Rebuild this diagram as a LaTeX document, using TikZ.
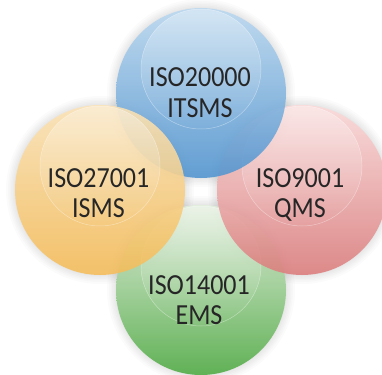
\documentclass[tikz,border=0pt]{standalone}
\usepackage{fontspec}
\setmainfont{Carlito}
\usetikzlibrary{fadings}
\definecolor{txt}{HTML}{262626}
\definecolor{blueT}{HTML}{BAD8F0}
\definecolor{blueB}{HTML}{5094D0}
\definecolor{yelT}{HTML}{FCE3B6}
\definecolor{yelB}{HTML}{F5BC58}
\definecolor{redT}{HTML}{FCDADA}
\definecolor{redB}{HTML}{DC7C7C}
\definecolor{grnT}{HTML}{E2EFDC}
\definecolor{grnB}{HTML}{4EAA42}
\tikzfading[name=hlfade, top color=transparent!0, bottom color=transparent!100]
\tikzset{
  ball/.style={circle, minimum size=170pt, inner sep=0pt, fill opacity=0.88, draw=none},
  label/.style={text=txt, inner sep=0pt, font=\fontsize{26}{26.8}\selectfont},
}
\newcommand{\lbl}[2]{\scalebox{1}[1.12]{\begin{tabular}{@{}c@{}}#1\\#2\end{tabular}}}
\newcommand{\shadowring}[1]{%
  \foreach \r in {86,87.5,89,90.5,92,94}{\fill[black, opacity=0.015] (#1) circle (\r);}}
\newcommand{\highlight}[1]{%
  \fill[white, fill opacity=0.32, path fading=hlfade] ([yshift=24pt]#1) circle (60);
  \draw[white, opacity=0.4, line width=0.5pt] ([yshift=24pt]#1) circle (60);}
\begin{document}
\begin{tikzpicture}[x=1pt, y=-1pt]
\useasboundingbox (0,0) rectangle (382,374);
\fill[white] (0,0) rectangle (382,374);
\coordinate (cT) at (201,93);
\coordinate (cL) at (100,190);
\coordinate (cR) at (302,190);
\coordinate (cB) at (201,290);
\shadowring{cT}\shadowring{cL}\shadowring{cR}\shadowring{cB}
% green, red, blue, yellow
\node[ball, top color=grnT, bottom color=grnB] (green) at (cB) {};
\highlight{cB}
\node[ball, top color=redT, bottom color=redB] (red) at (cR) {};
\highlight{cR}
\node[ball, top color=blueT, bottom color=blueB] (blue) at (cT) {};
\highlight{cT}
\node[ball, top color=yelT, bottom color=yelB] (yellow) at (cL) {};
\highlight{cL}
\node[label] (tT) at (200,96) {\lbl{ISO20000}{ITSMS}};
\node[label] (tL) at (98.5,196.4) {\lbl{ISO27001}{ISMS}};
\node[label] (tR) at (300,196.4) {\lbl{ISO9001}{QMS}};
\node[label] (tB) at (199,303.4) {\lbl{ISO14001}{EMS}};
\end{tikzpicture}
\end{document}
